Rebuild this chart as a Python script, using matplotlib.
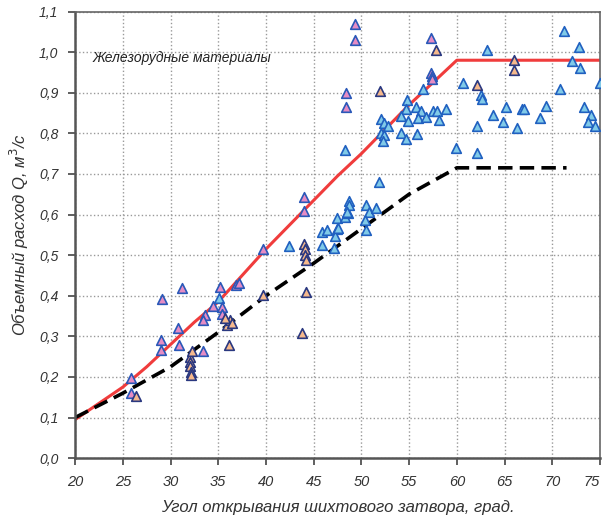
import numpy as np
import matplotlib.pyplot as plt

plt.rcParams['font.family'] = ['Liberation Sans', 'DejaVu Sans']

# Kurven (Berechnung)
red_x = [20, 22.5, 25, 27.5, 30, 32.5, 35, 37.5, 40, 42.5, 45, 47.5, 50, 52.5, 55, 57.5, 60, 75]
red_y = [0.095, 0.135, 0.175, 0.225, 0.28, 0.335, 0.385, 0.45, 0.515, 0.575, 0.635, 0.695,
         0.75, 0.81, 0.87, 0.925, 0.98, 0.98]

black_x = [20, 25, 30, 35, 40, 45, 50, 55, 60, 71.5]
black_y = [0.10, 0.16, 0.225, 0.31, 0.40, 0.48, 0.565, 0.65, 0.715, 0.715]

# Messpunkte
blue_x = [42.4, 45.9, 46.4, 45.9, 47.4, 47.25, 47.15, 47.4, 48.3, 48.55, 48.65, 48.7, 48.5, 47.6,
          50.5, 50.75, 50.4, 50.5, 51.55, 51.8, 48.3, 56.5, 60.6, 59.9, 62.1, 62.5, 62.6,
          63.2, 63.8, 64.8, 65.2, 66.3, 62.1, 66.8, 67.0, 69.3, 68.7, 71.2, 72.8, 72.1, 72.9,
          75.0, 70.8, 73.35, 74.05, 73.8, 74.5,
          54.8, 55.7, 54.7, 56.2, 54.1, 54.9, 55.9, 56.8, 57.5, 57.9, 58.9, 58.1,
          52.1, 52.4, 52.8, 52.1, 52.4, 52.3, 54.1, 54.7, 55.8, 35.1]
blue_y = [0.523, 0.557, 0.561, 0.525, 0.564, 0.546, 0.517, 0.591, 0.595, 0.603, 0.634, 0.624,
          0.607, 0.567, 0.624, 0.605, 0.587, 0.561, 0.616, 0.681, 0.760, 0.909, 0.925, 0.765,
          0.751, 0.895, 0.885, 1.006, 0.846, 0.829, 0.866, 0.813, 0.819, 0.860, 0.861, 0.868,
          0.837, 1.051, 1.013, 0.979, 0.960, 0.924, 0.910, 0.865, 0.846, 0.829, 0.817,
          0.881, 0.866, 0.860, 0.854, 0.842, 0.830, 0.838, 0.840, 0.854, 0.856, 0.860, 0.833,
          0.835, 0.825, 0.819, 0.800, 0.796, 0.782, 0.802, 0.786, 0.799, 0.395]

pink_x = [29.15, 31.25, 35.2, 36.9, 37.2, 34.5, 35.4, 33.6, 33.45, 35.4, 30.75, 29.05, 29.05,
          30.9, 33.45, 25.9, 25.9, 39.7, 44.0, 44.0, 49.35, 49.35, 48.4, 48.4, 57.3, 57.3,
          57.35, 57.45]
pink_y = [0.392, 0.42, 0.421, 0.427, 0.432, 0.375, 0.373, 0.353, 0.34, 0.355, 0.32, 0.29, 0.267,
          0.278, 0.263, 0.198, 0.16, 0.515, 0.643, 0.609, 1.068, 1.030, 0.900, 0.865, 1.034,
          0.948, 0.940, 0.934]

orange_x = [26.4, 35.9, 36.25, 35.7, 36.4, 36.1, 32.0, 32.05, 32.05, 32.1, 32.15, 32.2, 39.7,
            43.8, 44.0, 44.1, 44.1, 44.2, 44.2, 51.9, 57.8, 62.1, 66.0, 66.0]
orange_y = [0.152, 0.328, 0.340, 0.345, 0.333, 0.278, 0.250, 0.238, 0.226, 0.213, 0.205, 0.265,
            0.402, 0.308, 0.527, 0.514, 0.500, 0.489, 0.410, 0.903, 1.005, 0.920, 0.980, 0.957]

fig = plt.figure(figsize=(6.06, 5.23), dpi=100)
ax = fig.add_axes([0.124, 0.124, 0.866, 0.854])

ax.grid(True, color='#999999', linestyle=':', linewidth=1.0)
ax.set_axisbelow(True)

ax.plot(red_x, red_y, color='#F03C3C', linewidth=2.2, zorder=2)
ax.plot(black_x, black_y, color='black', linewidth=2.6, dashes=(4, 2), zorder=2)

ax.scatter(blue_x, blue_y, marker='^', s=48, facecolor='#80CAE8', edgecolor='#2060C0',
           linewidth=1.2, zorder=3)
ax.scatter(pink_x, pink_y, marker='^', s=48, facecolor='#E68CC4', edgecolor='#2A58B8',
           linewidth=1.2, zorder=3)
ax.scatter(orange_x, orange_y, marker='^', s=48, facecolor='#F6B98C', edgecolor='#2A3880',
           linewidth=1.2, zorder=3)

ax.text(21.8, 0.985, 'Железорудные материалы', fontsize=10, style='italic',
        color='#222222', va='center')

ax.set_xlim(20, 75)
ax.set_ylim(0, 1.1)
xt = np.arange(20, 76, 5)
yt = np.round(np.arange(0, 1.11, 0.1), 1)
ax.set_xticks(xt)
ax.set_yticks(yt)
ax.set_xticklabels([str(v) for v in xt], fontsize=10.5, style='italic', color='#333333')
ax.get_xticklabels()[-1].set_horizontalalignment('right')
ax.set_yticklabels([('%.1f' % v).replace('.', ',') for v in yt], fontsize=10,
                   style='italic', color='#333333')
ax.tick_params(direction='out', length=5, width=1.2, color='#444444', pad=7)

for s in ['left', 'bottom']:
    ax.spines[s].set_color('#555555')
    ax.spines[s].set_linewidth(1.8)
for s in ['top', 'right']:
    ax.spines[s].set_color('#666666')
    ax.spines[s].set_linewidth(1.2)

ax.set_xlabel('Угол открывания шихтового затвора, град.', fontsize=12, style='italic',
              color='#333333', labelpad=8)
ax.set_ylabel('Объемный расход Q, м$^3$/с', fontsize=12, style='italic', color='#333333',
              labelpad=6)

fig.savefig('out.png', dpi=100)
